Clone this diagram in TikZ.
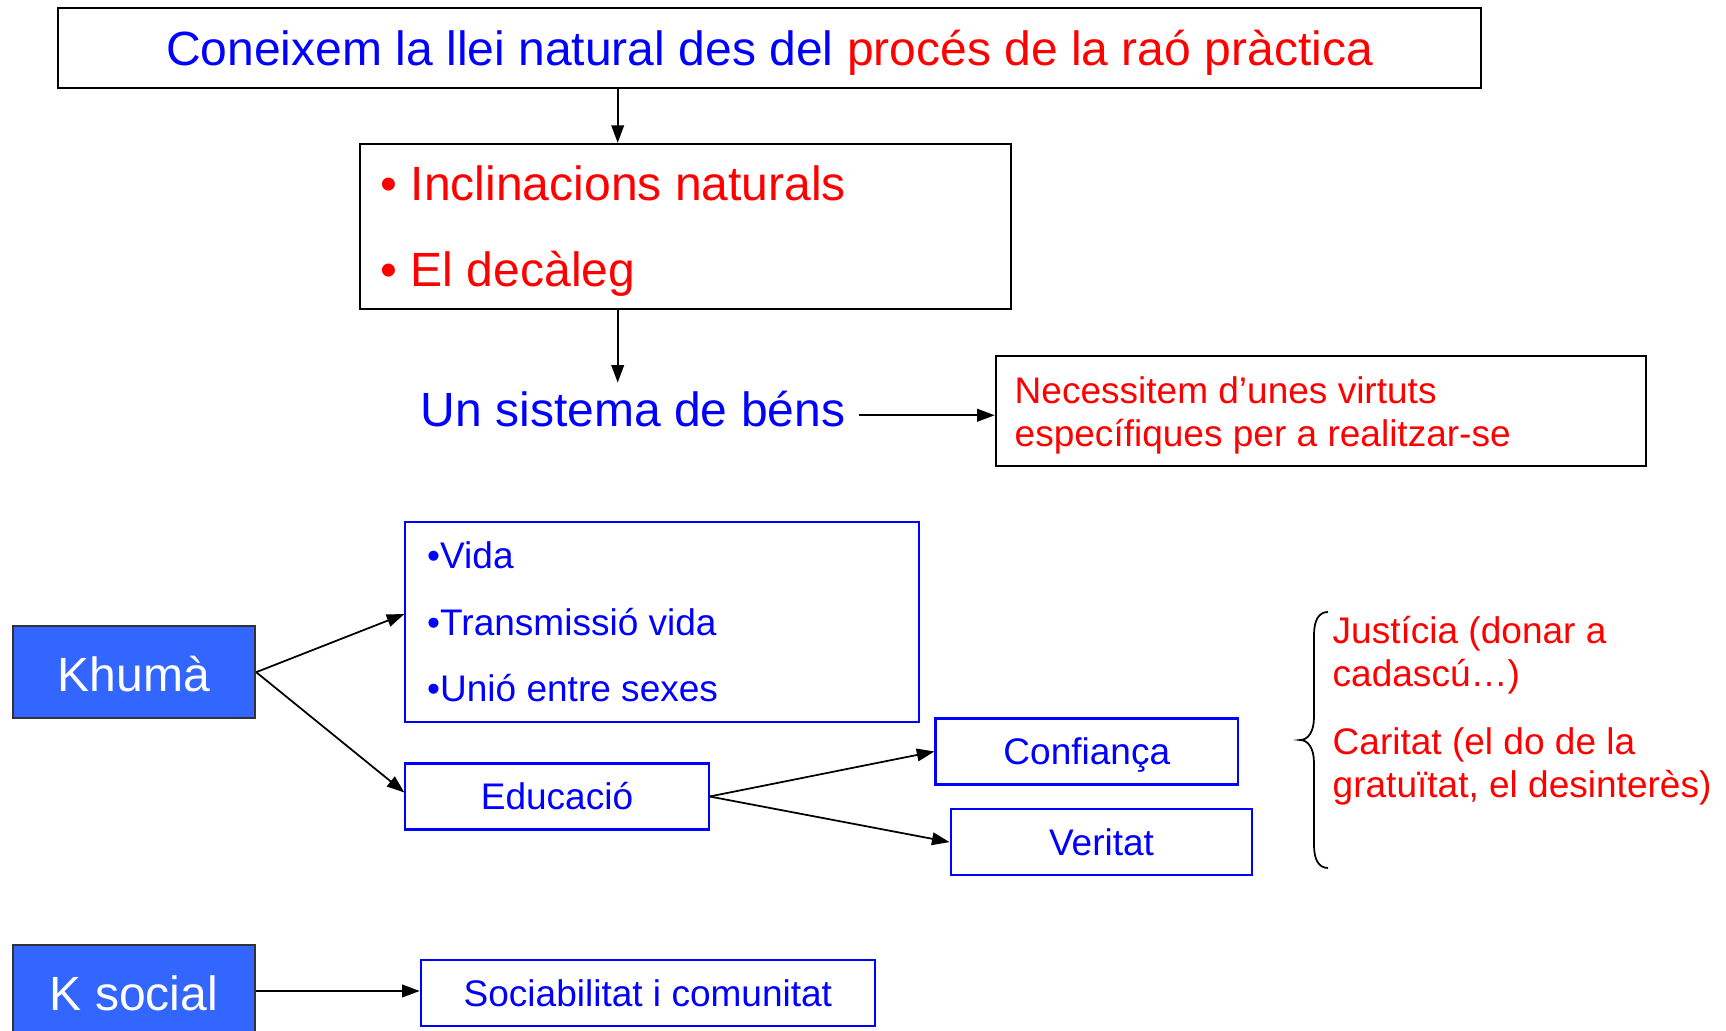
\documentclass[tikz,border=0pt]{standalone}
\usepackage{fontspec}
\setmainfont{Liberation Sans}
\usetikzlibrary{arrows.meta}
\definecolor{headBlue}{HTML}{3366FF}
\newcommand{\fontBig}{\fontsize{13.66pt}{16pt}\selectfont}
\newcommand{\fontSmall}{\fontsize{10.53pt}{12.5pt}\selectfont}

\begin{document}
\begin{tikzpicture}[x = 0.01cm, y = -0.01cm]
	\tikzstyle{blackBox} = [draw, line width = 0.6pt, inner sep = 0pt]
	\tikzstyle{blueBox} = [draw = blue, line width = 0.6pt, inner sep = 0pt, text = blue, font = \fontSmall, minimum height = 0.66cm, text height = 0.26cm, text depth = 0pt]
	\tikzstyle{headBox} = [draw = black!80, fill = headBlue, line width = 0.7pt, inner sep = 0pt, text = white, font = \fontBig, minimum width = 2.42cm, minimum height = 0.92cm, text height = 0.38cm, text depth = 0pt]
	\tikzstyle{bigText} = [anchor = base west, inner sep = 0pt, font = \fontBig]
	\tikzstyle{smallText} = [anchor = base west, inner sep = 0pt, font = \fontSmall]
	\tikzstyle{arrowStyle} = [-{Triangle[length = 5pt, width = 3.6pt]}, line width = 0.5pt]
	\useasboundingbox (0, 0) rectangle (1726, 1031);
	\node[blackBox, text = blue, font = \fontBig, minimum width = 14.22cm, minimum height = 0.80cm, text height = 0.366cm, text depth = 0pt] (top) at (769.6, 47.6) {Coneixem la llei natural des del \textcolor{red}{procés de la raó pràctica}};
	\node[blackBox, minimum width = 6.50cm, minimum height = 1.653cm] (incl) at (685.5, 226.6) {};
	\node[bigText, text = red] (incl1) at (380, 200.6) {• Inclinacions naturals};
	\node[bigText, text = red] (incl2) at (380, 286.4) {• El decàleg};
	\node[bigText, text = blue, inner sep = 0.08cm] (sist) at (412, 426.7) {Un sistema de béns};
	\node[blackBox, minimum width = 6.50cm, minimum height = 1.107cm] (nec) at (1321, 411) {};
	\node[smallText, text = red] (nec1) at (1014, 403.1) {Necessitem d’unes virtuts};
	\node[smallText, text = red] (nec2) at (1014, 447) {específiques per a realitzar-se};
	\node[headBox] (khuma) at (133.9, 672.2) {Khumà};
	\node[blueBox, minimum width = 5.135cm, minimum height = 2.005cm] (vida) at (662.3, 622.1) {};
	\node[smallText, text = blue] (vida1) at (426.5, 568.5) {•Vida};
	\node[smallText, text = blue] (vida2) at (426.5, 635.4) {•Transmissió vida};
	\node[smallText, text = blue] (vida3) at (426.5, 702) {•Unió entre sexes};
	\node[blueBox, minimum width = 3.03cm] (educ) at (557, 796.5) {Educació};
	\node[blueBox, minimum width = 3.025cm] (conf) at (1086.8, 751.5) {Confiança};
	\node[blueBox, minimum width = 3.016cm] (ver) at (1101.5, 842.1) {Veritat};
	\node[smallText, text = red] (just1) at (1332, 643.5) {Justícia (donar a};
	\node[smallText, text = red] (just2) at (1332, 687) {cadascú…)};
	\node[smallText, text = red] (car1) at (1332, 754.9) {Caritat (el do de la};
	\node[smallText, text = red] (car2) at (1332, 797.7) {gratuïtat, el desinterès)};
	\node[headBox] (ksoc) at (133.9, 991) {K social};
	\node[blueBox, minimum width = 4.54cm] (soc) at (647.9, 993) {Sociabilitat i comunitat};
	\coordinate (downX) at (617.7, 0);
	\draw[arrowStyle] (top.south -| downX) -- (incl.north -| downX);
	\draw[arrowStyle] (incl.south -| downX) -- (sist.north -| downX);
	\draw[arrowStyle] ([xshift = 0.05cm, yshift = -0.06cm]sist.east) -- ([yshift = -0.06cm]sist.east -| nec.west);
	\draw[arrowStyle] (khuma.east) -- ([yshift = 0.08cm]vida.west);
	\draw[arrowStyle] (khuma.east) -- ([yshift = 0.04cm]educ.west);
	\draw[arrowStyle] (educ.east) -- (conf.west);
	\draw[arrowStyle] (educ.east) -- (ver.west);
	\draw[arrowStyle] (ksoc.east) -- (ksoc.east -| soc.west);
	\draw[line width = 0.5pt] (1328, 612) .. controls (1319, 612) and (1314, 620) .. (1314, 635) -- (1314, 717) .. controls (1314, 732) and (1308, 740) .. (1300, 740) .. controls (1308, 740) and (1314, 748) .. (1314, 763) -- (1314, 845) .. controls (1314, 860) and (1319, 868) .. (1328, 868);
\end{tikzpicture}
\end{document}
